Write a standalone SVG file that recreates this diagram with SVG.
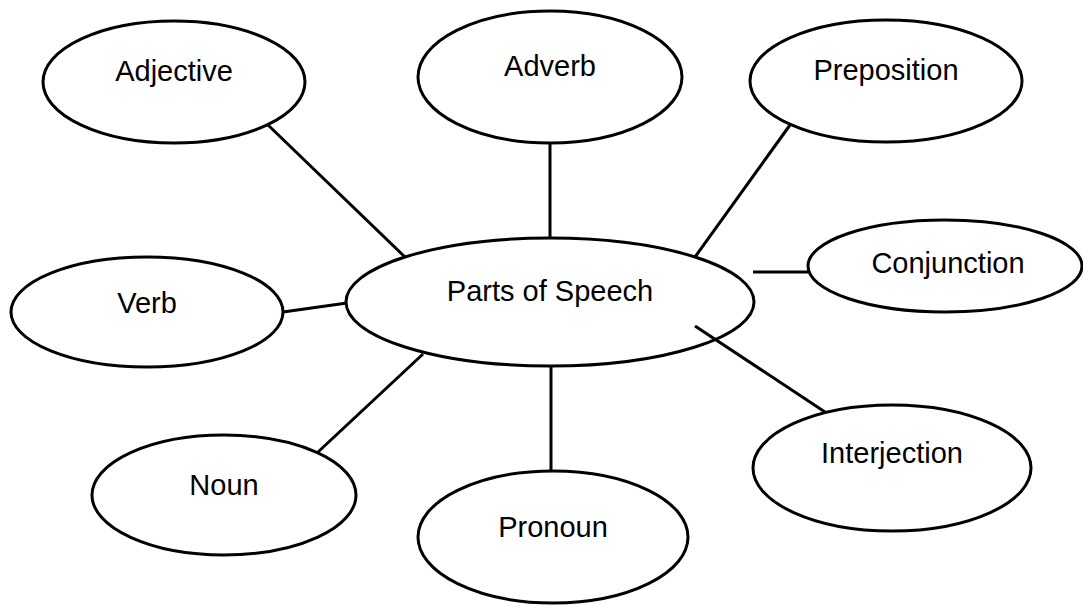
<svg xmlns="http://www.w3.org/2000/svg" width="1083" height="606" viewBox="0 0 1083 606">
<style>
.n ellipse{fill:#fff;stroke:#000;stroke-width:3}
.n text{font-family:"Liberation Sans",Arial,sans-serif;font-size:29px;fill:#000;text-anchor:middle}
#connectors line{stroke:#000;stroke-width:3}
</style>
<rect width="1083" height="606" fill="#fff"/>
<g id="adjective" class="n"><ellipse cx="174" cy="82" rx="131" ry="61"/><text x="174" y="81">Adjective</text></g>
<g id="adverb" class="n"><ellipse cx="550" cy="77" rx="132" ry="66"/><text x="550" y="76">Adverb</text></g>
<g id="preposition" class="n"><ellipse cx="886" cy="81" rx="136" ry="61"/><text x="886" y="80">Preposition</text></g>
<g id="conjunction" class="n"><ellipse cx="945" cy="266" rx="137" ry="46"/><text x="948" y="273">Conjunction</text></g>
<g id="verb" class="n"><ellipse cx="147" cy="312" rx="136" ry="55"/><text x="147" y="313">Verb</text></g>
<g id="parts-of-speech" class="n"><ellipse cx="550" cy="302" rx="204" ry="64"/><text x="550" y="301">Parts of Speech</text></g>
<g id="noun" class="n"><ellipse cx="224" cy="495" rx="132" ry="60"/><text x="224" y="495">Noun</text></g>
<g id="pronoun" class="n"><ellipse cx="553" cy="537" rx="135" ry="66"/><text x="553" y="537">Pronoun</text></g>
<g id="interjection" class="n"><ellipse cx="892" cy="468" rx="139" ry="63"/><text x="892" y="463">Interjection</text></g>
<g id="connectors">
<line x1="268" y1="125" x2="405" y2="257"/>
<line x1="550" y1="143" x2="550" y2="239"/>
<line x1="790" y1="125" x2="695" y2="257"/>
<line x1="753" y1="272" x2="808" y2="272"/>
<line x1="283" y1="312" x2="347" y2="303"/>
<line x1="318" y1="452" x2="423" y2="354"/>
<line x1="551" y1="366" x2="551" y2="471"/>
<line x1="695" y1="326" x2="825" y2="412"/>
</g>
</svg>
